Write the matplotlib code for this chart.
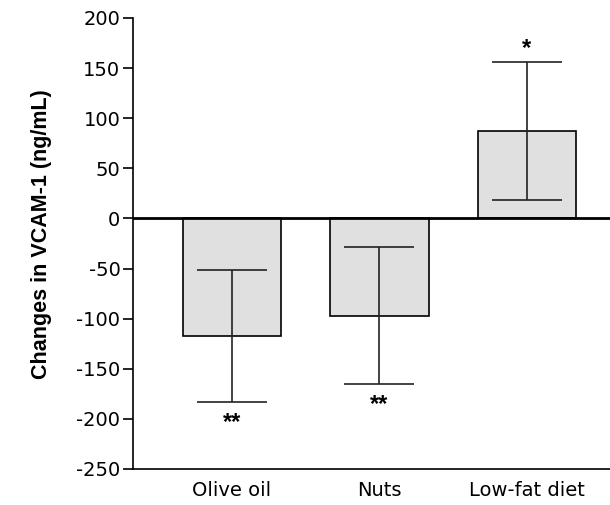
import matplotlib.pyplot as plt
import numpy as np

plt.rcParams['font.family'] = ['Liberation Sans', 'DejaVu Sans']
plt.rcParams['axes.unicode_minus'] = False

groups = ['Olive oil', 'Nuts', 'Low-fat diet']
changes = [-117, -97, 87]
errors = [66, 68, 69]
marks = ['**', '**', '*']

fig = plt.figure(figsize=(6.1, 5.05), dpi=100)
ax = fig.add_axes([0.218, 0.0713, 0.782, 0.8931])

x = np.arange(len(groups))
ax.bar(x, changes, width=0.67, color='#e0e0e0', edgecolor='black', linewidth=1.2, zorder=2)
ax.errorbar(x, changes, yerr=errors, fmt='none', ecolor='#222222', elinewidth=1.2,
            capsize=25, capthick=1.2, zorder=3)
ax.axhline(0, color='black', linewidth=2, zorder=4)

# significance marks (glyph sits high in its box, hence the offsets)
for xi, v, e, m in zip(x, changes, errors, marks):
    if v < 0:
        ax.text(xi, v - e - 9, m, ha='center', va='top', fontsize=17, fontweight='bold')
    else:
        ax.text(xi, v + e + 2, m, ha='center', va='bottom', fontsize=17, fontweight='bold')

ax.set_xlim(-0.671, 2.563)
ax.set_ylim(-250, 200)
ax.set_yticks(np.arange(-250, 201, 50))
ax.set_xticks(x)
ax.set_xticklabels(groups, fontsize=14, family='DejaVu Sans')
for lab in ax.get_yticklabels():
    lab.set_family('DejaVu Sans')
ax.tick_params(axis='x', length=0, pad=9)
ax.tick_params(axis='y', length=7, width=1.2, labelsize=14, pad=2)
ax.set_ylabel('Changes in VCAM-1 (ng/mL)', fontsize=15.5, fontweight='bold')
ax.yaxis.set_label_coords(-0.17, 0.52)

ax.spines['top'].set_visible(False)
ax.spines['right'].set_visible(False)
ax.spines['left'].set_linewidth(1.2)
ax.spines['bottom'].set_linewidth(1.2)

fig.savefig('out.png', dpi=100)
